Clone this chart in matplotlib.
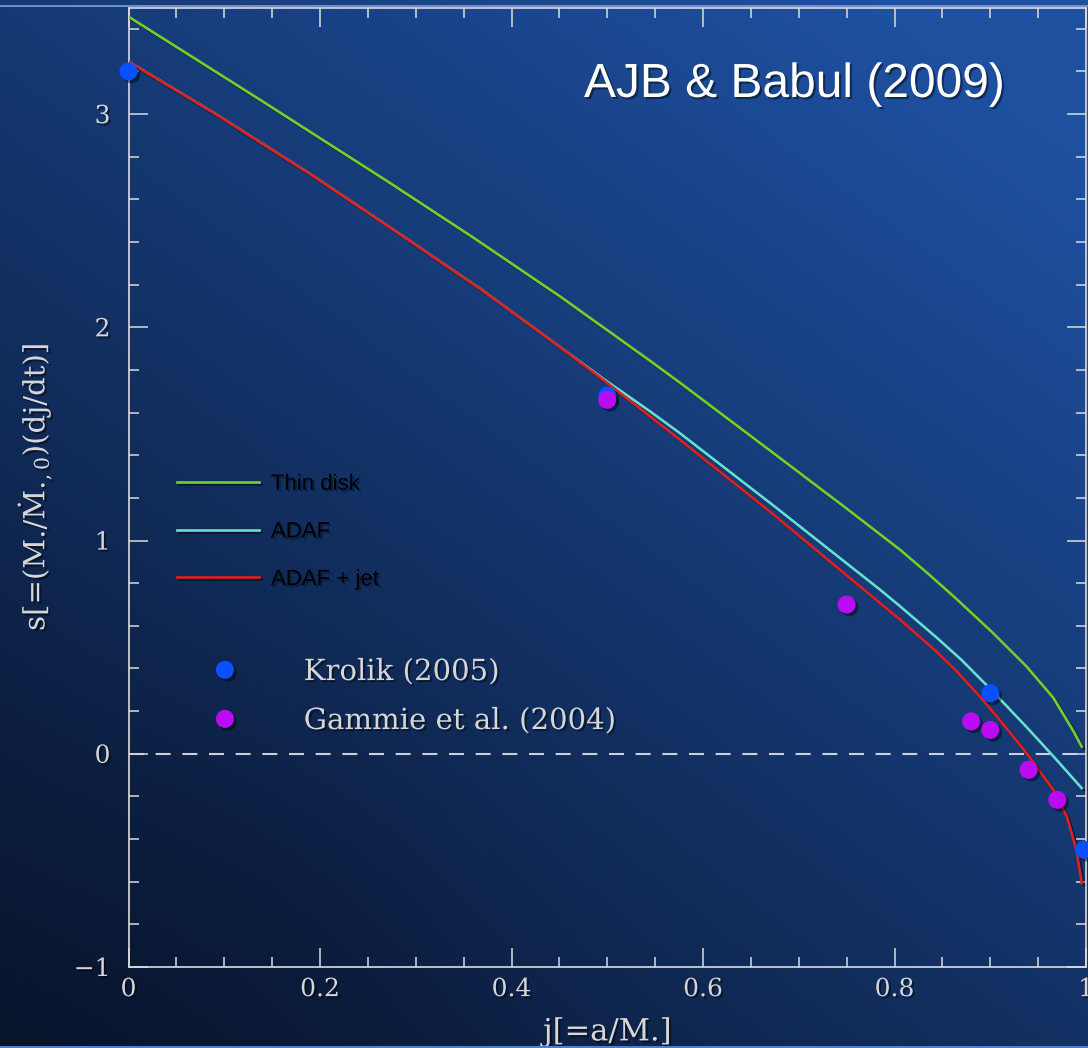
import numpy as np
import matplotlib
matplotlib.use("Agg")
import matplotlib.pyplot as plt
import matplotlib.patheffects as pe
from matplotlib.lines import Line2D
from matplotlib.ticker import MultipleLocator

# ---------------- data ----------------
thin_j = [0.0, 0.135, 0.271, 0.36, 0.451, 0.545, 0.576, 0.675, 0.75, 0.806, 0.835, 0.865, 0.903, 0.938, 0.966, 0.987, 0.9955]
thin_s = [3.457, 3.074, 2.683, 2.421, 2.144, 1.842, 1.740, 1.405, 1.15, 0.956, 0.845, 0.725, 0.566, 0.409, 0.262, 0.105, 0.034]

adaf_j = [0.0, 0.090, 0.19, 0.284, 0.37, 0.451, 0.496, 0.545, 0.576, 0.675, 0.785, 0.806, 0.844, 0.87, 0.901, 0.938, 0.966, 0.987, 0.9955]
adaf_s = [3.246, 3.003, 2.718, 2.435, 2.172, 1.906, 1.758, 1.605, 1.503, 1.159, 0.769, 0.691, 0.545, 0.44, 0.30, 0.125, -0.012, -0.118, -0.161]

jet_j = [0.0, 0.090, 0.19, 0.284, 0.37, 0.451, 0.496, 0.545, 0.576, 0.675, 0.785, 0.806, 0.844, 0.865, 0.889, 0.907, 0.938, 0.966, 0.980, 0.990, 0.9955]
jet_s = [3.246, 3.003, 2.718, 2.435, 2.172, 1.906, 1.753, 1.581, 1.472, 1.117, 0.706, 0.628, 0.478, 0.387, 0.269, 0.175, 0.003, -0.169, -0.294, -0.45, -0.606]

krolik_j = [0.0, 0.5, 0.9, 0.998]
krolik_s = [3.2, 1.68, 0.284, -0.45]

gammie_j = [0.5, 0.75, 0.88, 0.90, 0.94, 0.97]
gammie_s = [1.66, 0.70, 0.152, 0.112, -0.075, -0.216]

curve_labels = ["Thin disk", "ADAF", "ADAF + jet"]
point_labels = ["Krolik (2005)", "Gammie et al. (2004)"]
title_text = "AJB & Babul (2009)"
xlabel_text = "j[=a/M.]"
ylabel_text = r"s[=(M./Ṁ.$_{,0}$)(dj/dt)]"
xticks = [0, 0.2, 0.4, 0.6, 0.8, 1]
xticklabels = ["0", "0.2", "0.4", "0.6", "0.8", "1"]
yticks = [-1, 0, 1, 2, 3]
yticklabels = ["\u22121", "0", "1", "2", "3"]

# ---------------- style ----------------
plt.rcParams["mathtext.fontset"] = "dejavuserif"
SERIF = ["DejaVu Serif"]
SANS = ["Liberation Sans", "DejaVu Sans"]
TXT = "#d6d6d6"

W, H = 1088, 1048
fig = plt.figure(figsize=(W / 100, H / 100), dpi=100)

# background gradient
bg = fig.add_axes([0, 0, 1, 1], zorder=-10)
yy, xx = np.mgrid[0:1:300j, 0:1:300j]
t = np.clip(0.62 * (1 - yy) + 0.48 * xx - 0.05 * np.exp(-((xx - 0.25) ** 2 + (yy - 0.88) ** 2) / 0.05), 0, 1)
dark = np.array([8, 20, 44]) / 255
bright = np.array([30, 80, 160]) / 255
img = dark[None, None, :] + (bright - dark)[None, None, :] * t[..., None]
bg.imshow(img, aspect="auto", extent=[0, 1, 0, 1], origin="upper")
bg.set_axis_off()
fig.add_artist(Line2D([0, 1], [1 - 5.5 / H, 1 - 5.5 / H], transform=fig.transFigure, color="#7f9fd6", lw=1.2))
fig.add_artist(Line2D([0, 1], [1.5 / H, 1.5 / H], transform=fig.transFigure, color="#4f7fc6", lw=1.5))

ax = fig.add_axes([128.5 / W, 1 - 967 / H, (1086 - 128.5) / W, (967 - 7.5) / H])
ax.set_facecolor("none")
ax.set_xlim(0, 1)
ax.set_ylim(-1, 3.5)

shadow_line = [pe.SimpleLineShadow(offset=(1.5, -1.5), shadow_color="k", alpha=0.45), pe.Normal()]
shadow_pt = [pe.SimplePatchShadow(offset=(2, -2), shadow_rgbFace="k", alpha=0.45), pe.Normal()]
shadow_txt = [pe.withSimplePatchShadow(offset=(1.5, -1.5), shadow_rgbFace="k", alpha=0.45)]

ax.axhline(0, color="#cfcfcf", lw=1.5, dashes=(7.2, 5.6), zorder=2)

l1, = ax.plot(thin_j, thin_s, color="#6fd12a", lw=1.9, path_effects=shadow_line, zorder=3)
l2, = ax.plot(adaf_j, adaf_s, color="#66e0d2", lw=1.9, path_effects=shadow_line, zorder=3)
l3, = ax.plot(jet_j, jet_s, color="#dd2020", lw=1.9, path_effects=shadow_line, zorder=3.5)

p1, = ax.plot(krolik_j, krolik_s, "o", ms=13, color="#0a50ff", mec="none", path_effects=shadow_pt, zorder=5, clip_on=False)
p2, = ax.plot(gammie_j, gammie_s, "o", ms=13, color="#b90cf2", mec="none", path_effects=shadow_pt, zorder=5, clip_on=False)

# ticks
for sp in ax.spines.values():
    sp.set_color("#dcdcdc")
    sp.set_linewidth(1.2)
ax.xaxis.set_major_locator(MultipleLocator(0.2))
ax.xaxis.set_minor_locator(MultipleLocator(0.05))
ax.yaxis.set_major_locator(MultipleLocator(1))
ax.yaxis.set_minor_locator(MultipleLocator(0.2))
ax.set_xticks(xticks)
ax.set_xticklabels(xticklabels)
ax.set_yticks(yticks)
ax.set_yticklabels(yticklabels)
ax.tick_params(which="both", direction="in", top=True, right=True, colors="#dcdcdc", width=1.1)
ax.tick_params(which="major", length=13.7)
ax.tick_params(which="minor", length=7.2)
ax.tick_params(axis="x", which="major", pad=8, labelcolor=TXT)
ax.tick_params(axis="y", which="major", pad=13, labelcolor=TXT)
for lab in ax.get_xticklabels() + ax.get_yticklabels():
    lab.set_fontfamily(SERIF)
    lab.set_fontsize(18)
    lab.set_path_effects(shadow_txt)

ax.set_xlabel(xlabel_text, family=SERIF, fontsize=22, color=TXT, labelpad=11, path_effects=shadow_txt)
ax.set_ylabel(ylabel_text, family=SERIF, fontsize=21, color=TXT, labelpad=14, path_effects=shadow_txt)

# legends
leg1 = ax.legend([l1, l2, l3], curve_labels, loc="upper left", bbox_to_anchor=(0.0503, 0.514),
                 frameon=False, prop={"family": SANS, "size": 16}, labelcolor="black",
                 handlelength=3.7, handletextpad=0.54, labelspacing=1.2, borderpad=0, borderaxespad=0)
for tx in leg1.get_texts():
    tx.set_path_effects([pe.withSimplePatchShadow(offset=(1.5, -1.5), shadow_rgbFace="k", alpha=0.3)])
ax.add_artist(leg1)

leg2 = ax.legend([p1, p2], point_labels, loc="upper left", bbox_to_anchor=(0.0718, 0.322),
                 frameon=False, prop={"family": SERIF, "size": 21}, labelcolor=TXT, numpoints=1,
                 handlelength=1.9, handletextpad=1.75, labelspacing=0.72, borderpad=0, borderaxespad=0)
for tx in leg2.get_texts():
    tx.set_path_effects(shadow_txt)

fig.text(584 / W, 1 - 97 / H, title_text, family=SANS, fontsize=34.5, color="white", va="baseline", ha="left",
         path_effects=shadow_txt)

fig.savefig("out.png", dpi=100)
